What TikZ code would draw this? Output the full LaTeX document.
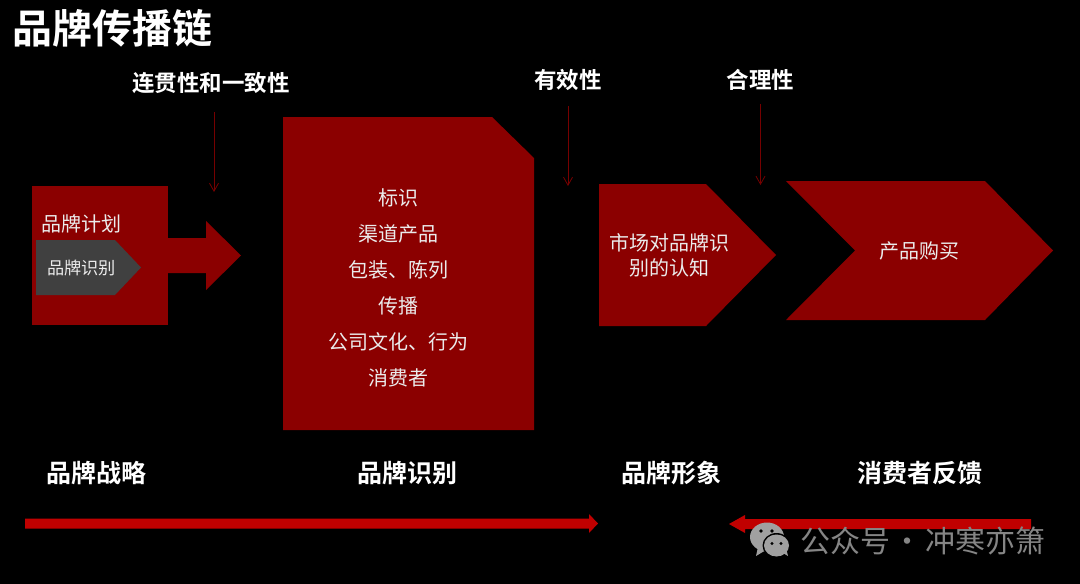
\documentclass[tikz,border=0pt]{standalone}
\usepackage{fontspec}
\setmainfont{Noto Sans CJK SC}
\newfontfamily\cjkb{Noto Sans CJK SC Bold}
\usetikzlibrary{arrows.meta}
\definecolor{brandred}{HTML}{8B0000}
\definecolor{barred}{HTML}{C00000}
\definecolor{slate}{HTML}{404040}
\definecolor{mark}{HTML}{858585}
\definecolor{markicon}{HTML}{A0A0A0}
\tikzset{
  x=1pt,y=-1pt,
  shapefill/.style={fill=brandred},
  titletext/.style={text=white,font=\cjkb\fontsize{40}{40}\selectfont,inner sep=0pt,anchor=west},
  headtext/.style={text=white,font=\cjkb\fontsize{22.5}{22.5}\selectfont,inner sep=0pt},
  stagetext/.style={text=white,font=\cjkb\fontsize{25}{25}\selectfont,inner sep=0pt},
  bodytext/.style={text=white!92!black,font=\fontsize{20}{26}\selectfont,inner sep=0pt,align=center},
  thinarrow/.style={draw=brandred!85!black,line width=0.8pt,-{Straight Barb[length=8pt,width=9pt,line width=0.8pt]}},
  bararrow/.style={fill=barred},
}
\begin{document}
\begin{tikzpicture}
\useasboundingbox (0,0) rectangle (1080,584);
\fill[black] (0,0) rectangle (1080,584);
% shapes
\fill[shapefill] (168,238) -- (206,238) -- (206,221) -- (241,255.5) -- (206,290) -- (206,273) -- (168,273) -- cycle;
\fill[shapefill] (32,186) rectangle (168,325);
\fill[slate] (36,240) -- (115,240) -- (141,267.5) -- (115,295) -- (36,295) -- cycle;
\fill[shapefill] (283,117) -- (492,117) -- (534,158) -- (534,430) -- (283,430) -- cycle;
\fill[shapefill] (599,184) -- (706,184) -- (776,255) -- (706,326) -- (599,326) -- cycle;
\fill[shapefill] (786,181) -- (985,181) -- (1053,250.5) -- (985,320) -- (786,320) -- (855,250.5) -- cycle;
% texts
\node[titletext] (title) at (12,28) {品牌传播链};
\node[headtext] (h1) at (211,83.5) {连贯性和一致性};
\node[headtext] (h2) at (568,80) {有效性};
\node[headtext] (h3) at (760.5,80) {合理性};
\node[bodytext] (plan) at (81.5,224) {品牌计划};
\node[bodytext,font=\fontsize{17.2}{20}\selectfont] (ident) at (81.5,267.5) {品牌识别};
\node[bodytext] (b1) at (398,197.5) {标识};
\node[bodytext] (b2) at (398,233.5) {渠道产品};
\node[bodytext] (b3) at (398,269.5) {包装、陈列};
\node[bodytext] (b4) at (398,305.5) {传播};
\node[bodytext] (b5) at (398,341.5) {公司文化、行为};
\node[bodytext] (b6) at (398,378) {消费者};
\node[bodytext,font=\fontsize{20}{25}\selectfont] (market) at (669.5,255.5) {市场对品牌识\\别的认知};
\node[bodytext] (buy) at (919,251) {产品购买};
\node[stagetext] (s1) at (96,473) {品牌战略};
\node[stagetext] (s2) at (407.5,473) {品牌识别};
\node[stagetext] (s3) at (671,473) {品牌形象};
\node[stagetext] (s4) at (919.5,473) {消费者反馈};
% thin connectors
\coordinate (a1s) at (214,112); \coordinate (a1e) at (214,192);
\coordinate (a2s) at (568,106); \coordinate (a2e) at (568,186);
\coordinate (a3s) at (760.5,104); \coordinate (a3e) at (760.5,185);
\draw[thinarrow] (a1s) -- (a1e);
\draw[thinarrow] (a2s) -- (a2e);
\draw[thinarrow] (a3s) -- (a3e);
% bottom arrows
\fill[bararrow] (25,518.5) -- (589,518.5) -- (589,514) -- (598,523.5) -- (589,533) -- (589,528.5) -- (25,528.5) -- cycle;
\fill[bararrow] (1031,519) -- (745,519) -- (745,515) -- (729,524) -- (745,533) -- (745,529) -- (1031,529) -- cycle;
% watermark
\fill[markicon] (767,537) ellipse (17 and 14.5);
\fill[markicon] (758,547) -- (756,556) -- (766,550) -- cycle;
\fill[black] (776.5,545.5) ellipse (14 and 12.5);
\fill[markicon] (776.5,545.5) ellipse (12.5 and 11);
\fill[markicon] (783,553) -- (788,556) -- (786,548) -- cycle;
\fill[black] (761,531) circle (1.9) (772,531) circle (1.9) (772,543.5) circle (1.7) (781,543.5) circle (1.7);
\node[text=mark,font=\fontsize{30}{30}\selectfont,inner sep=0pt,anchor=west] (wm) at (800,540.5) {公众号\hspace{-4pt} · \hspace{-4pt}冲寒亦箫};
\end{tikzpicture}
\end{document}
